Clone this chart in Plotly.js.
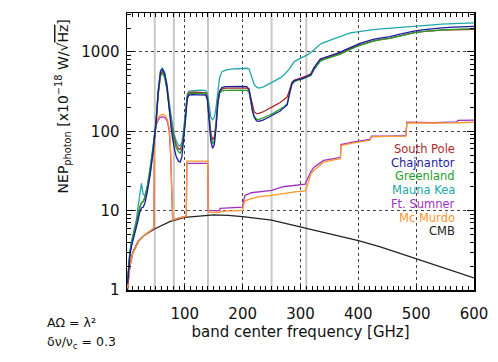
<!DOCTYPE html>
<html><head><meta charset="utf-8">
<script src="https://cdn.plot.ly/plotly-3.0.1.min.js"></script>
<style>html,body{margin:0;padding:0;background:#fff}#chart{width:498px;height:362px}</style>
</head><body><div id="chart"></div>
<script>
// ---- data ----
const freqMain = [1,3,5,8,12,16,19,22,25,28,31,35,40,45,50,54,58,61,65,69,73,77,81,85,89,92,95,98,101,104,107,112,120,130,136,139,142,145,148,151,154,157,160,164,170,180,190,200,207,211,214,217,220,224,228,235,245,255,265,272,277,281,285,289,295,303,311,318,323,328,334,340,348,357,368,378,386,395,403,414,426,440,455,470,484,496,510,525,545,565,585,600];

const southPole = [1.2,2.0,2.8,3.8,5.0,6.5,8.5,11,12.5,13,14.5,19,30,55,120,300,520,565,500,360,200,120,85,68,60,59,66,90,150,270,305,310,310,310,305,270,160,95,78,85,130,240,310,340,350,352,352,352,350,330,260,200,175,167,168,175,190,210,230,250,270,330,410,440,455,470,500,530,630,700,790,810,850,890,960,1040,1110,1170,1230,1300,1380,1440,1490,1580,1680,1750,1800,1845,1880,1900,1915,1925];

const chajnantor = [1.2,2.0,2.8,3.6,4.6,6.0,7.5,9.5,10.8,11,12.5,17,28,55,125,320,570,610,530,370,190,100,65,48,42,41,48,75,135,255,285,290,290,290,286,250,140,75,61,68,110,220,320,355,365,368,368,368,365,340,250,180,150,135,133,138,150,165,180,200,215,300,400,435,445,460,490,520,620,710,810,840,880,915,985,1070,1140,1210,1280,1360,1440,1500,1560,1660,1760,1830,1890,1950,2010,2050,2080,2100];

const greenland = [1.3,2.2,3.0,4.0,5.3,6.8,9,11,12.5,13,15,20,33,60,125,290,500,540,480,340,180,110,78,62,55,53,60,85,145,260,295,300,300,300,296,260,150,85,70,76,120,230,300,322,328,330,330,330,328,310,240,180,155,142,140,146,158,172,188,205,222,295,385,420,440,455,480,505,590,665,760,800,835,870,930,1010,1080,1150,1210,1290,1370,1430,1480,1570,1670,1740,1800,1850,1895,1925,1945,1960];

const maunaKea = [1.3,2.3,3.1,4.2,5.6,7.5,11,17,22,16,15.5,20,33,62,130,330,580,625,560,400,230,140,95,76,67,65,74,105,170,290,320,325,328,330,325,300,200,150,140,150,200,300,470,560,590,605,615,622,622,610,530,450,390,360,350,360,395,430,470,520,560,610,680,750,800,850,910,980,1060,1150,1250,1310,1380,1460,1560,1680,1730,1780,1820,1870,1910,1950,1990,2040,2080,2120,2160,2200,2240,2270,2300,2320];

const freqFtSumner = [1,3,5,10,20,30,40,46.5,47.5,50,54,58,62,66,70,73,75,77,79,85,95,102.5,103.5,120,139.5,140.5,150,160,161,180,200,201,204,215,230,250,270,290,300,308,313,318,323,334,340,360,369,370,390,420,423,450,482,484,500,530,570,572,600];
const ftSumner = [1.05,1.6,2.0,2.9,4.1,4.9,5.6,6.0,80,118,140,150,152,148,132,100,60,18,7.6,7.9,8.3,8.5,39.5,39.5,39.5,10,10,10,10.7,10.9,11.1,13,15.5,16.8,17.2,18,20,21,21.3,21.5,26,31,35,40,43,45.5,47,68,73,79,87,87,88,130,130,128,131,137,138];

const freqMcMurdo = [1,3,5,10,20,30,40,46.5,47.5,50,54,58,62,66,70,73,75,77,79,85,95,102.5,103.5,120,139.5,140.5,150,160,161,180,200,201,204,215,230,250,270,290,300,308,313,318,323,334,340,360,369,370,390,420,423,450,482,484,500,530,570,600];
const mcMurdo = [1.05,1.6,2.0,2.9,4.1,4.9,5.6,6.0,85,125,150,160,163,158,140,110,70,20,7.6,7.9,8.3,8.5,42,42,42,9.6,9.5,9.5,9.8,9.9,10.1,11.5,13.3,14.2,15,15.6,16.5,17.2,17.5,17.7,22,29,32,37,41,44,45,66,71,77,85,86,87,127,127,126,128,130];

const freqCMB = [1,2,5,10,20,30,50,75,100,140,150,175,200,250,300,350,400,438,500,550,600];
const cmb = [1.0,1.3,2.0,3.0,4.2,4.9,6.0,7.3,8.2,8.8,8.85,8.7,8.4,7.6,6.2,5.1,4.2,3.5,2.5,1.9,1.42];

const bandEdges = [48, 81, 140, 250, 310];

const seriesNames = ['South Pole','Chajnantor','Greenland','Mauna Kea','Ft. Sumner','Mc Murdo','CMB'];
const seriesColors = ['#b02828','#1c1ca0','#22a02a','#20a8a8','#a030c0','#ff9628','#222222'];

const xTickVals = [100,200,300,400,500,600];
const yTickVals = [1,10,100,1000];

// ---- build ----
const xs = [freqMain,freqMain,freqMain,freqMain,freqFtSumner,freqMcMurdo,freqCMB];
const ys = [southPole,chajnantor,greenland,maunaKea,ftSumner,mcMurdo,cmb];
const drawOrder = [6,4,5,3,0,2,1];
const traces = drawOrder.map(i => ({
  x: xs[i], y: ys[i], type:'scatter', mode:'lines', name: seriesNames[i],
  line:{color: seriesColors[i], width:1.3}, showlegend:false
}));

const xMinor = []; for (let v=10; v<600; v+=10) if (v%100) xMinor.push(v);
const yMinor = []; for (const d of [1,10,100,1000]) for (let k=2;k<=9;k++) if (k*d<3100) yMinor.push(k*d);

const shapes = bandEdges.map(f => ({type:'line', xref:'x', yref:'paper', x0:f, x1:f, y0:0, y1:1,
  line:{color:'#c8c8c8', width:2}, layer:'below'}));

const FAM = 'DejaVu Sans, sans-serif';
const font = {family:FAM, size:15, color:'#111'};
const annotations = seriesNames.map((n,i) => ({
  text: n, xref:'paper', yref:'paper', x:0.951, y:0.509 - i*0.0495,
  xanchor:'right', yanchor:'middle', showarrow:false,
  font:{family:FAM, size:11.5, color: seriesColors[i]}
}));
annotations.push({text:'NEP<sub>photon</sub> [x10<sup>−18</sup> W/√<span style="text-decoration:overline">Hz</span>]',
  xref:'paper', yref:'paper', x:-0.185, y:0.662, textangle:-90, xanchor:'center', yanchor:'middle',
  showarrow:false, font:{family:FAM, size:14, color:'#111'}});
annotations.push({text:'AΩ = λ²', xref:'paper', yref:'paper', x:-0.236, y:-0.119, xanchor:'left', yanchor:'middle',
  showarrow:false, font:{family:FAM, size:12.5, color:'#111'}});
annotations.push({text:'δν/ν<sub>c</sub> = 0.3', xref:'paper', yref:'paper', x:-0.236, y:-0.191, xanchor:'left', yanchor:'middle',
  showarrow:false, font:{family:FAM, size:12.5, color:'#111'}});

const layout = {
  width:498, height:362, margin:{l:127, r:24, t:13, b:72},
  paper_bgcolor:'#fff', plot_bgcolor:'#fff', font: font, showlegend:false,
  xaxis:{range:[0,600], tickmode:'array', tickvals:xTickVals, ticks:'inside', ticklen:5, tickwidth:1, tickcolor:'#000',
    showline:true, linecolor:'#000', linewidth:1.5, mirror:'allticks', zeroline:false,
    showgrid:true, gridcolor:'#444', griddash:'dot', gridwidth:1,
    minor:{tickmode:'array', tickvals:xMinor, ticks:'inside', ticklen:4, tickcolor:'#000', showgrid:false},
    tickfont:font, ticklabelstandoff:9, title:{text:'band center frequency [GHz]', font:font, standoff:5}},
  yaxis:{type:'log', range:[0, 3.49], tickmode:'array', tickvals:yTickVals, ticktext:['1','10','100','1000'],
    ticks:'inside', ticklen:7, tickcolor:'#000', showline:true, linecolor:'#000', linewidth:1.5, mirror:'allticks', zeroline:false,
    showgrid:true, gridcolor:'#444', griddash:'dot', gridwidth:1,
    minor:{tickmode:'array', tickvals:yMinor, ticks:'inside', ticklen:4, tickcolor:'#000', showgrid:false},
    tickfont:font, ticklabelstandoff:3},
  shapes: shapes, annotations: annotations
};
Plotly.newPlot('chart', traces, layout, {staticPlot:true, displayModeBar:false});
</script></body></html>
